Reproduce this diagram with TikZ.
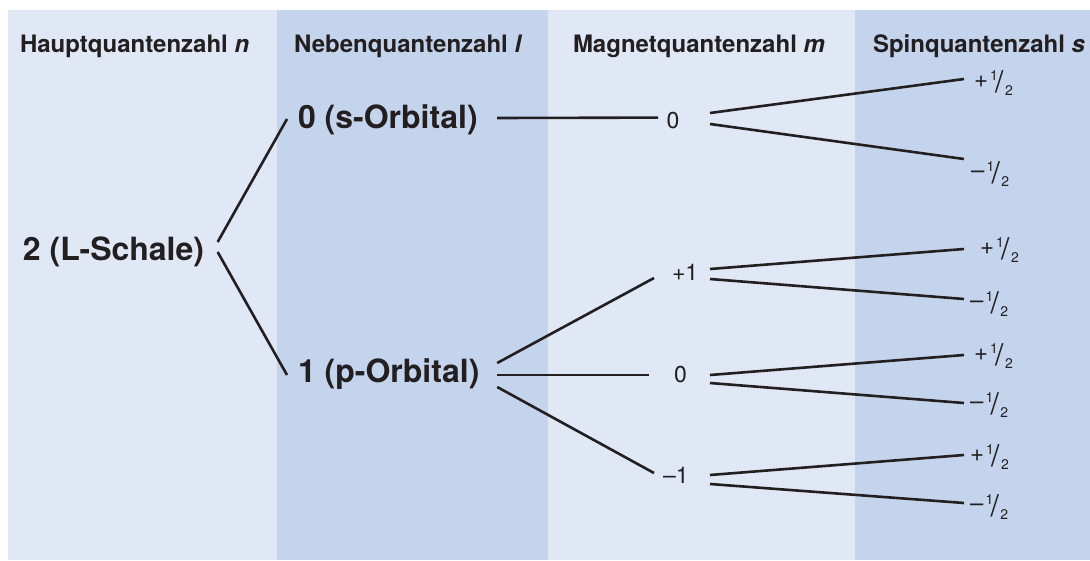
\documentclass[tikz,border=0pt]{standalone}
\usepackage{fontspec}
\setmainfont{TeX Gyre Heros}
\usetikzlibrary{calc}

\definecolor{colLight}{HTML}{E0E7F5}
\definecolor{colDark}{HTML}{C5D4ED}
\definecolor{ink}{HTML}{231F20}

% spin value: sign, raised 1, large slash, lowered 2
\newcommand\spinhalf[1]{{\fontsize{24}{24}\selectfont#1}\kern2.2pt\raisebox{7pt}{\fontsize{14}{14}\selectfont 1}\kern-2.8pt\raisebox{-5pt}{\fontsize{30}{30}\selectfont /}\kern1.6pt\raisebox{-8pt}{\fontsize{14}{14}\selectfont 2}}

\begin{document}
\begin{tikzpicture}[x=1pt,y=-1pt,
  every node/.style={inner sep=0pt, outer sep=0pt, anchor=base west, text=ink},
  header/.style={font=\fontsize{24}{24}\selectfont\bfseries},
  level/.style={font=\fontsize{32}{32}\selectfont\bfseries},
  mval/.style={font=\fontsize{23}{23}\selectfont},
  branch/.style={draw=ink, line width=2.6pt}]

\useasboundingbox (0,0) rectangle (1090,560);

% column backgrounds
\fill[white] (0,0) rectangle (1090,560);
\fill[colLight] (8,10) rectangle (277,560);
\fill[colDark]  (277,10) rectangle (548,560);
\fill[colLight] (548,10) rectangle (855,560);
\fill[colDark]  (855,10) rectangle (1090,560);

% column headings
\node[header] (hn) at (20,52)  {Hauptquantenzahl \textit{n}};
\node[header] (hl) at (294,52) {Nebenquantenzahl \textit{l}};
\node[header] (hm) at (573,52) {Magnetquantenzahl \textit{m}};
\node[header] (hs) at (873,52) {Spinquantenzahl \textit{s}};

% principal and azimuthal levels
\node[level] (n2) at (23,260)  {2 (L-Schale)};
\node[level] (l0) at (298,128) {0 (s-Orbital)};
\node[level] (l1) at (298,382) {1 (p-Orbital)};

% magnetic values
\node[mval] (m0a) at (666.5,128.6) {0};
\node[mval] (mp)  at (672,280) {+1};
\node[mval] (m0b) at (674,382) {0};
\node[mval] (mm)  at (663,483) {–1};

% spin values
\node (s1) at (974,87.5)  {\spinhalf{+}};
\node (s2) at (971,178)   {\spinhalf{–}};
\node (s3) at (980,254.5) {\spinhalf{+}};
\node (s4) at (970,308.7) {\spinhalf{–}};
\node (s5) at (974,360.5) {\spinhalf{+}};
\node (s6) at (970,409.3) {\spinhalf{–}};
\node (s7) at (970,461.5) {\spinhalf{+}};
\node (s8) at (970,511)   {\spinhalf{–}};

% n -> l
\draw[branch] ($(n2.base east)+(13.6,-18)$) -- ($(l0.base west)+(-11,-9)$);
\draw[branch] ($(n2.base east)+(13.6,-8)$)  -- ($(l1.base west)+(-11,-7)$);

% l -> m
\draw[branch] ($(l0.base east)+(19.4,-10)$) -- ($(m0a.base west)+(-8.5,-11)$);
\draw[branch] ($(l1.base east)+(17.7,-19)$) -- ($(mp.base west)+(-18,-2)$);
\draw[branch] ($(l1.base east)+(17.7,-7)$)  -- ($(m0b.base west)+(-25,-7)$);
\draw[branch] ($(l1.base east)+(17.7,5)$)   -- ($(mm.base west)+(-9,-10)$);

% m -> s
\draw[branch] ($(m0a.base east)+(30.7,-15.6)$) -- ($(s1.base west)+(-10,-8.5)$);
\draw[branch] ($(m0a.base east)+(30.7,-4.6)$)  -- ($(s2.base west)+(-7,-19)$);
\draw[branch] ($(mp.base east)+(11.8,-11)$)    -- ($(s3.base west)+(-16,-5.5)$);
\draw[branch] ($(mp.base east)+(11.8,-1)$)     -- ($(s4.base west)+(-6,-9.7)$);
\draw[branch] ($(m0b.base east)+(23.2,-7)$)    -- ($(s5.base west)+(-10,-5.5)$);
\draw[branch] ($(m0b.base east)+(23.2,1)$)     -- ($(s6.base west)+(-6,-6.3)$);
\draw[branch] ($(mm.base east)+(21.4,-8)$)     -- ($(s7.base west)+(-6,-6.5)$);
\draw[branch] ($(mm.base east)+(21.4,1)$)      -- ($(s8.base west)+(-6,-8)$);
\end{tikzpicture}
\end{document}
